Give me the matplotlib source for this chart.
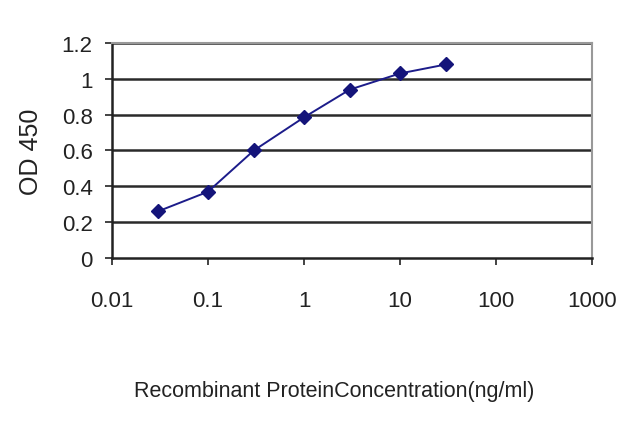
import matplotlib
matplotlib.use("Agg")
import matplotlib.pyplot as plt

concentration = [0.03, 0.1, 0.3, 1, 3, 10, 30]
od450 = [0.26, 0.37, 0.60, 0.785, 0.94, 1.03, 1.08]
x_ticks = [0.01, 0.1, 1, 10, 100, 1000]
x_tick_labels = ["0.01", "0.1", "1", "10", "100", "1000"]
y_ticks = [0, 0.2, 0.4, 0.6, 0.8, 1, 1.2]
y_tick_labels = ["0", "0.2", "0.4", "0.6", "0.8", "1", "1.2"]

plt.rcParams['font.family'] = ['Liberation Sans', 'DejaVu Sans']

fig = plt.figure(figsize=(6.4, 4.27), dpi=100)
ax = fig.add_axes([0.175, 0.3934, 0.75, 0.5036])

ax.set_xscale('log')
ax.set_xlim(0.01, 1000)
ax.set_ylim(0, 1.2)

for y in y_ticks[1:]:
    ax.axhline(y, color='#2a2a2a', linewidth=1.8, zorder=1)

ax.plot(concentration, od450, color='#1c1c8a', linewidth=1.4,
        marker='D', markersize=7, markerfacecolor='#14147a',
        markeredgecolor='#14147a', zorder=3)

ax.set_xticks(x_ticks)
ax.set_xticklabels(x_tick_labels)
ax.minorticks_off()
ax.set_yticks(y_ticks)
ax.set_yticklabels(y_tick_labels)

ax.tick_params(axis='x', direction='out', length=5, width=1.2, pad=18,
               labelsize=16, colors='#222222')
ax.tick_params(axis='y', direction='out', length=5, width=1.2, pad=9,
               labelsize=16, colors='#222222')

for side in ['left', 'bottom']:
    ax.spines[side].set_color('#222222')
    ax.spines[side].set_linewidth(1.8)
for side in ['top', 'right']:
    ax.spines[side].set_color('#999999')
    ax.spines[side].set_linewidth(1.5)

ax.set_ylabel("OD 450", fontsize=18, color='#222222', labelpad=13)
fig.text(0.522, (427 - 392) / 427, "Recombinant ProteinConcentration(ng/ml)",
         ha='center', va='center', fontsize=15.5, color='#222222')

fig.savefig("out.png", dpi=100)
